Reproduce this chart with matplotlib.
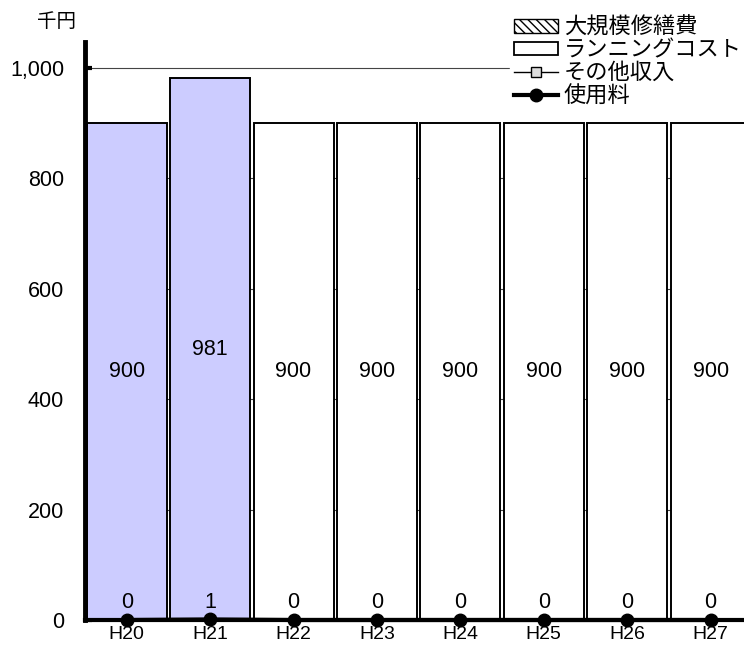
import matplotlib
matplotlib.use('Agg')
from matplotlib import pyplot as plt
from matplotlib.lines import Line2D
from matplotlib.patches import Patch
import numpy as np

plt.rcParams['font.family'] = ['Liberation Sans', 'Noto Sans CJK JP', 'DejaVu Sans']

# data
years = ['H20', 'H21', 'H22', 'H23', 'H24', 'H25', 'H26', 'H27']
running_cost = [900, 981, 900, 900, 900, 900, 900, 900]
major_repair = [0, 0, 0, 0, 0, 0, 0, 0]
other_income = [0, 0, 0, 0, 0, 0, 0, 0]
usage_fee = [0, 1, 0, 0, 0, 0, 0, 0]
bar_colors = ['#CCCCFF', '#CCCCFF', 'white', 'white', 'white', 'white', 'white', 'white']


def main():
    fig = plt.figure(figsize=(7.44, 6.45), dpi=100)
    ax = fig.add_axes([85 / 744, 25 / 645, 1 - 85 / 744, 578 / 645])

    x = np.arange(len(years))

    # gridlines behind bars
    for yv in range(200, 1001, 200):
        ax.axhline(yv, color='#444444', linewidth=0.8, zorder=0)

    ax.bar(x, major_repair, width=0.96, color='white', edgecolor='black',
           hatch='\\\\\\\\', linewidth=1.3, zorder=2)
    ax.bar(x, running_cost, bottom=major_repair, width=0.96, color=bar_colors,
           edgecolor='black', linewidth=1.4, zorder=2)

    for xi, v in zip(x, running_cost):
        ax.text(xi, v / 2, f'{v:,}', ha='center', va='center', fontsize=15.5, zorder=5)

    ax.plot(x, other_income, color='black', linewidth=1, marker='s', markersize=6,
            markerfacecolor='#DDDDDD', markeredgecolor='black', zorder=3, clip_on=False)
    ax.plot(x, usage_fee, color='black', linewidth=3, marker='o', markersize=9,
            zorder=4, clip_on=False)

    for xi, v in zip(x, usage_fee):
        ax.text(xi, v + 12, f'{v:,}', ha='center', va='bottom', fontsize=15.5, zorder=5)

    ax.set_xlim(-0.5, 7.4)
    ax.set_ylim(0, 1047)
    ax.set_yticks(range(0, 1001, 200))
    ax.set_yticklabels([f'{v:,}' for v in range(0, 1001, 200)], fontsize=15.5)
    ax.set_xticks(x)
    ax.set_xticklabels(years, fontsize=14)
    ax.tick_params(axis='y', direction='in', length=5, width=3, pad=15)
    ax.tick_params(axis='x', length=0, pad=4)

    for side in ['top', 'right']:
        ax.spines[side].set_visible(False)
    ax.spines['left'].set_linewidth(3.5)
    ax.spines['bottom'].set_linewidth(3)
    ax.spines['left'].set_zorder(6)
    ax.spines['bottom'].set_zorder(3)

    fig.text(57 / 744, 1 - 22 / 645, '千円', ha='center', va='center', fontsize=14)

    handles = [
        Patch(facecolor='white', edgecolor='black', hatch='\\\\\\\\', linewidth=1),
        Patch(facecolor='white', edgecolor='black', linewidth=1.3),
        Line2D([], [], color='black', linewidth=1, marker='s', markersize=7,
               markerfacecolor='#DDDDDD', markeredgecolor='black'),
        Line2D([], [], color='black', linewidth=3, marker='o', markersize=9),
    ]
    labels = ['大規模修繕費', 'ランニングコスト', 'その他収入', '使用料']
    leg = fig.legend(handles, labels, loc='upper left', bbox_to_anchor=(510 / 744, 1 - 13 / 645),
                     frameon=True, fancybox=False, edgecolor='white', framealpha=1,
                     fontsize=16, handlelength=1.95, handleheight=0.55, handletextpad=0.27,
                     labelspacing=0.08, borderpad=0.2, borderaxespad=0)
    leg.set_zorder(10)

    fig.savefig('out.png', dpi=100)


if __name__ == '__main__':
    main()
